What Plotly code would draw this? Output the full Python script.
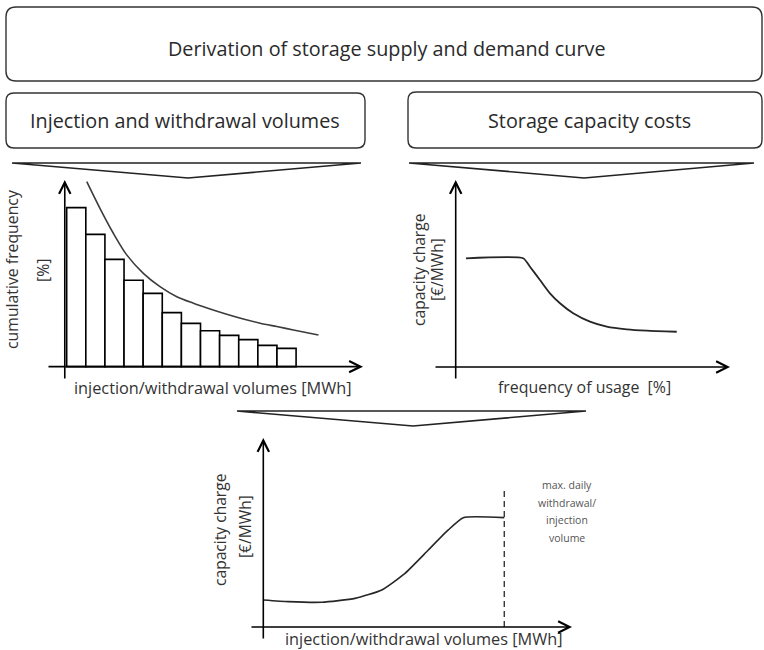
import plotly.graph_objects as go

W, H = 764, 650

# ---------------- data ----------------
# left panel: cumulative frequency histogram of injection/withdrawal volumes
bar_bins = list(range(1, 13))
bar_freq = [100, 83.2, 67.5, 54.3, 46.1, 34.0, 27.2, 22.6, 19.7, 17.0, 13.4, 11.5]
envelope_x = [1.55, 2.24, 2.94, 3.64, 4.51, 5.38, 6.26, 7.13, 8.0, 8.87, 9.74, 10.62, 11.49, 12.36, 13.67]
envelope_y = [116.4, 99.6, 83.9, 70.3, 58.7, 50.3, 44.0, 39.9, 36.3, 33.0, 30.0, 27.3, 25.2, 23.1, 19.9]

# right panel: capacity charge vs frequency of usage
usage_x = [4.1, 27.0, 29.7, 33.7, 37.7, 41.7, 47.0, 53.7, 60.4, 68.4, 76.4, 88.4]
usage_charge = [72.5, 72.5, 66.9, 58.0, 49.1, 42.5, 35.8, 30.2, 26.9, 25.1, 24.2, 23.5]

# bottom panel: capacity charge vs injection/withdrawal volume
volume_x = [0, 10, 23.4, 36.7, 47.4, 56.7, 66.0, 74.0, 80.0, 96.4]
volume_charge = [18, 16.9, 16.5, 19.1, 24.7, 35.8, 51.3, 64.7, 72.9, 72.9]
max_volume = 96.4
max_volume_line_top = 92.7

# text
title_text = "Derivation of storage supply and demand curve"
box_left_text = "Injection and withdrawal volumes"
box_right_text = "Storage capacity costs"
xlab_volumes = "injection/withdrawal volumes [MWh]"
ylab_cumfreq = ["cumulative frequency", "[%]"]
ylab_charge = ["capacity charge", "[€/MWh]"]
xlab_usage = "frequency of usage  [%]"
max_note = ["max. daily", "withdrawal/", "injection", "volume"]

# axis ranges (data units)
L_XR, L_YR, L_YAXIS_X = [-0.53, 16.0], [-8.4, 117.4], 0.4
R_XR, R_YR = [-8.68, 109.7], [-8.67, 124.7]
B_XR, B_YR = [-5.32, 123.5], [-8.67, 126.0]

FONT = "Open Sans"
DARK = "#262626"


def PX(v):
    return v / W


def PY(v):
    return 1 - v / H


fig = go.Figure()

# ---------------- traces ----------------
fig.add_trace(go.Bar(x=bar_bins, y=bar_freq, width=1, xaxis="x", yaxis="y",
                     marker=dict(color="white", line=dict(color="black", width=1.6)),
                     showlegend=False, hoverinfo="skip"))
fig.add_trace(go.Scatter(x=envelope_x, y=envelope_y, mode="lines", xaxis="x", yaxis="y",
                         line=dict(color="#3c3c3c", width=1.6, shape="spline", smoothing=0.8),
                         showlegend=False, hoverinfo="skip"))
fig.add_trace(go.Scatter(x=usage_x, y=usage_charge, mode="lines", xaxis="x2", yaxis="y2",
                         line=dict(color=DARK, width=1.8, shape="spline", smoothing=0.5),
                         showlegend=False, hoverinfo="skip"))
fig.add_trace(go.Scatter(x=volume_x, y=volume_charge, mode="lines", xaxis="x3", yaxis="y3",
                         line=dict(color=DARK, width=1.6, shape="spline", smoothing=0.5),
                         showlegend=False, hoverinfo="skip"))
fig.add_trace(go.Scatter(x=[max_volume, max_volume], y=[0, max_volume_line_top], mode="lines",
                         xaxis="x3", yaxis="y3",
                         line=dict(color=DARK, width=1.3, dash="6px,4px"),
                         showlegend=False, hoverinfo="skip"))

# ---------------- axes ----------------
def hidden_axis(dom, rng, anchor):
    return dict(domain=dom, range=rng, anchor=anchor, showgrid=False, zeroline=False,
                showticklabels=False, ticks="", showline=False, fixedrange=True)

fig.update_layout(
    xaxis=hidden_axis([PX(47), PX(363)], L_XR, "y"),
    yaxis=hidden_axis([PY(380), PY(180)], L_YR, "x"),
    xaxis2=hidden_axis([PX(434), PX(730)], R_XR, "y2"),
    yaxis2=hidden_axis([PY(380), PY(180)], R_YR, "x2"),
    xaxis3=hidden_axis([PX(250), PX(572)], B_XR, "y3"),
    yaxis3=hidden_axis([PY(640), PY(438)], B_YR, "x3"),
)

annotations = []


def axis_arrow(xr, yr, xa, ya, x_at, y_at):
    # vertical axis
    annotations.append(dict(x=x_at, y=yr[1], ax=x_at, ay=yr[0], xref=xa, yref=ya, axref=xa, ayref=ya,
                            text="", showarrow=True, arrowhead=5, arrowsize=1.4, arrowwidth=1.6,
                            arrowcolor="black"))
    # horizontal axis
    annotations.append(dict(x=xr[1], y=y_at, ax=xr[0], ay=y_at, xref=xa, yref=ya, axref=xa, ayref=ya,
                            text="", showarrow=True, arrowhead=5, arrowsize=1.4, arrowwidth=1.6,
                            arrowcolor="black"))


axis_arrow(L_XR, L_YR, "x", "y", L_YAXIS_X, 0)
axis_arrow(R_XR, R_YR, "x2", "y2", 0, 0)
axis_arrow(B_XR, B_YR, "x3", "y3", 0, 0)


def label(text, x, y, size=14, angle=0, color="#333333"):
    annotations.append(dict(text=text, x=PX(x), y=PY(y), xref="paper", yref="paper",
                            showarrow=False, textangle=angle, xanchor="center", yanchor="middle",
                            font=dict(family=FONT, size=size, color=color)))


# box texts
label(title_text, 387, 48, size=19.8, color="#2a2a2a")
label(box_left_text, 185, 121, size=19.8, color="#2a2a2a")
label(box_right_text, 589, 121, size=19.8, color="#2a2a2a")

# left panel labels
label(ylab_cumfreq[0], 12, 270, size=15.8, angle=-90)
label(ylab_cumfreq[1], 43, 271, size=15.8, angle=-90)
label(xlab_volumes, 213, 388, size=16.3)

# right panel labels
label(ylab_charge[0], 419, 270, size=15.6, angle=-90)
label(ylab_charge[1], 437, 270, size=15.6, angle=-90)
label(xlab_usage, 584, 387, size=15.9)

# bottom panel labels
label(ylab_charge[0], 220, 530, size=15.6, angle=-90)
label(ylab_charge[1], 245, 527, size=15.6, angle=-90)
label(xlab_volumes, 424, 639, size=16.3)

for i, line in enumerate(max_note):
    label(line, 567, 485 + i * 17.5, size=10.5, color="#555555")

# ---------------- shapes (boxes and funnels) ----------------
shapes = []


def rrect(x0, y0, x1, y1, r):
    p = (f"M {PX(x0 + r)},{PY(y0)} L {PX(x1 - r)},{PY(y0)} Q {PX(x1)},{PY(y0)} {PX(x1)},{PY(y0 + r)} "
         f"L {PX(x1)},{PY(y1 - r)} Q {PX(x1)},{PY(y1)} {PX(x1 - r)},{PY(y1)} "
         f"L {PX(x0 + r)},{PY(y1)} Q {PX(x0)},{PY(y1)} {PX(x0)},{PY(y1 - r)} "
         f"L {PX(x0)},{PY(y0 + r)} Q {PX(x0)},{PY(y0)} {PX(x0 + r)},{PY(y0)} Z")
    shapes.append(dict(type="path", path=p, xref="paper", yref="paper",
                       line=dict(color="#333333", width=1.4), fillcolor="rgba(0,0,0,0)"))


def funnel(x0, x1, y, tipx, tipy):
    p = f"M {PX(x0)},{PY(y)} L {PX(x1)},{PY(y)} L {PX(tipx)},{PY(tipy)} Z"
    shapes.append(dict(type="path", path=p, xref="paper", yref="paper",
                       line=dict(color="#222222", width=1.6), fillcolor="rgba(0,0,0,0)"))


rrect(6, 7, 762, 81, 10)
rrect(6, 93, 365, 148, 8)
rrect(408, 92, 762, 148, 8)
funnel(12, 361, 163, 188, 178)
funnel(409, 754, 163, 584, 178)
funnel(237, 586, 411, 413, 426)

fig.update_layout(
    width=W, height=H, autosize=False,
    margin=dict(l=0, r=0, t=0, b=0, pad=0),
    paper_bgcolor="white", plot_bgcolor="white",
    annotations=annotations, shapes=shapes,
    showlegend=False,
)

fig.write_html("out.html", config={"displayModeBar": False, "staticPlot": True},
               post_script="document.body.style.margin='0';document.body.style.overflow='hidden';")
